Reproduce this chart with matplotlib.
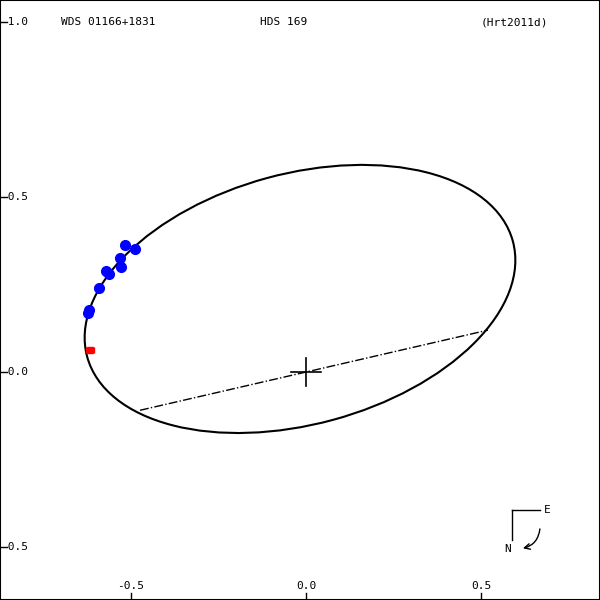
import numpy as np
import matplotlib.pyplot as plt
from matplotlib.patches import Ellipse

# apparent orbit (arcsec), y axis runs downward like the original
orbit_center = (-0.017, -0.209)
orbit_a = 0.630
orbit_b = 0.358
orbit_angle = -15.2

node_x = [-0.474, 0.52]
node_y = [0.109, -0.12]

obs_x = [-0.623, -0.620, -0.591, -0.571, -0.563, -0.531, -0.529, -0.517, -0.489]
obs_y = [-0.169, -0.177, -0.240, -0.289, -0.280, -0.326, -0.300, -0.363, -0.351]
red_x = [-0.617]
red_y = [-0.063]

xticks = [-0.5, 0.0, 0.5]
xlabels = ['-0.5', '0.0', '0.5']
yticks = [-1.0, -0.5, 0.0, 0.5]
ylabels = ['-1.0', '-0.5', '-0.0', '-0.5']

plt.rcParams['font.family'] = 'DejaVu Sans Mono'
fig = plt.figure(figsize=(6, 6), dpi=100)
ax = fig.add_axes([0, 0, 1, 1])
ax.set_xlim(-0.874, 0.84)
ax.set_ylim(0.651, -1.063)

ax.add_patch(Ellipse(orbit_center, 2 * orbit_a, 2 * orbit_b, angle=orbit_angle,
                     fill=False, color='black', lw=1.5))
ax.plot(node_x, node_y, color='black', lw=1, linestyle='-.')
ax.plot([-0.043, 0.043], [0, 0], color='black', lw=1.2)
ax.plot([0, 0], [-0.04, 0.04], color='black', lw=1.2)
ax.plot(obs_x, obs_y, 'o', color='blue', ms=7)
ax.errorbar(red_x, red_y, xerr=0.012, fmt='s', color='red', ms=4, capsize=2, lw=1)

for v, s in zip(xticks, xlabels):
    ax.plot([v, v], [0.651, 0.63], color='black', lw=1)
    ax.text(v, 0.61, s, ha='center', va='center', fontsize=8)
for v, s in zip(yticks, ylabels):
    ax.plot([-0.874, -0.855], [v, v], color='black', lw=1)
    ax.text(-0.872, v, s, ha='left', va='center', fontsize=8)

ax.text(-0.7, -1.0, 'WDS 01166+1831', ha='left', va='center', fontsize=8)
ax.text(-0.13, -1.0, 'HDS 169', ha='left', va='center', fontsize=8)
ax.text(0.5, -1.0, '(Hrt2011d)', ha='left', va='center', fontsize=8)

# compass
ax.plot([0.589, 0.669], [0.394, 0.394], color='black', lw=1)
ax.plot([0.589, 0.589], [0.394, 0.48], color='black', lw=1)
ax.text(0.69, 0.394, 'E', ha='center', va='center', fontsize=8)
ax.text(0.575, 0.505, 'N', ha='center', va='center', fontsize=8)
ax.annotate('', xy=(0.612, 0.505), xytext=(0.669, 0.44),
            arrowprops=dict(arrowstyle='->', color='black', lw=1,
                            connectionstyle='arc3,rad=-0.4'))

ax.set_xticks([])
ax.set_yticks([])
for sp in ax.spines.values():
    sp.set_linewidth(1.5)
fig.savefig('out.png')
